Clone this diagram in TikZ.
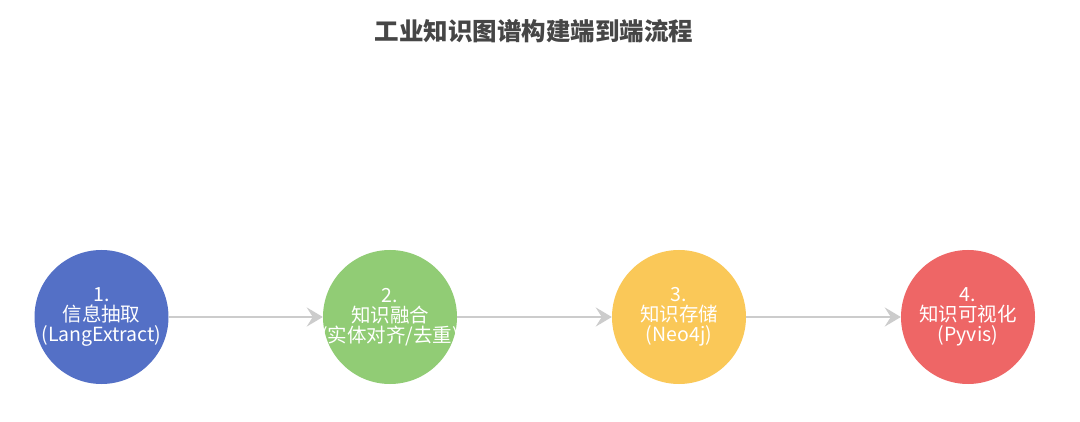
\documentclass[tikz,border=0pt]{standalone}
\usepackage{fontspec}
\setmainfont{Noto Sans CJK SC}
\usepackage{tikz}
\usetikzlibrary{arrows.meta}
\definecolor{kgInk}{HTML}{464646}
\definecolor{kgBlue}{HTML}{5470C6}
\definecolor{kgGreen}{HTML}{91CC75}
\definecolor{kgYellow}{HTML}{FAC858}
\definecolor{kgRed}{HTML}{EE6666}
\definecolor{kgLine}{HTML}{CCCCCC}
\tikzset{
  stepnode/.style={circle,minimum size=134pt,inner sep=0pt,
    align=center,text=white,
    font=\fontsize{19.5}{20}\selectfont},
  arr/.style={-{Stealth[length=16pt,width=19pt,inset=6pt]},
    line width=2.5pt,color=kgLine},
  ttl/.style={font=\fontsize{24.5}{26}\selectfont\bfseries,text=kgInk},
}
\begin{document}
\begin{tikzpicture}[x=1pt,y=-1pt]
  \useasboundingbox[fill=white] (0,0) rectangle (1080,422);

  % Title
  \node[ttl] (title) at (534,31) {工业知识图谱构建端到端流程};

  % Pipeline steps
  \node[stepnode,fill=kgBlue] (s1) at (101.5,317)
    {1.\\信息抽取\\(LangExtract)};
  \node[stepnode,fill=kgGreen] (s2) at (390,317)
    {2.\\知识融合\\\makebox[0pt]{(实体对齐/去重)}};
  \node[stepnode,fill=kgYellow] (s3) at (679,317)
    {3.\\知识存储\\(Neo4j)};
  \node[stepnode,fill=kgRed] (s4) at (968,317)
    {4.\\知识可视化\\(Pyvis)};

  % Flow arrows
  \draw[arr] (s1) -- (s2);
  \draw[arr] (s2) -- (s3);
  \draw[arr] (s3) -- (s4);
\end{tikzpicture}
\end{document}
